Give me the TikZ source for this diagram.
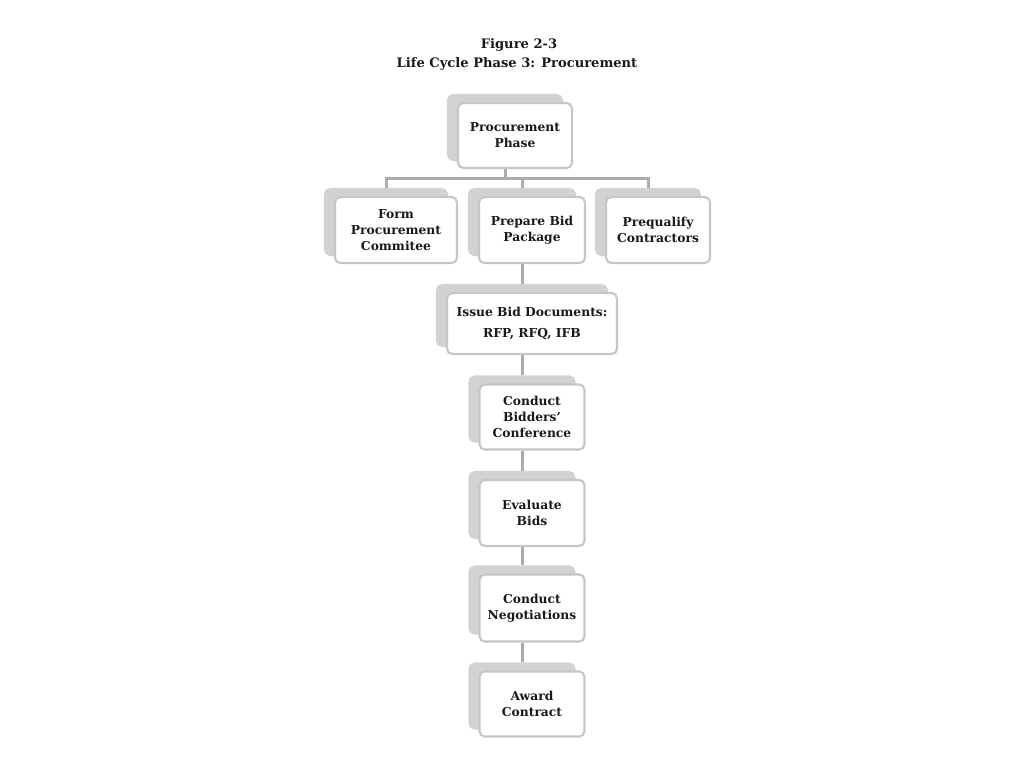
\documentclass[tikz,border=0pt]{standalone}
\usepackage{fontspec}
\setmainfont{DejaVu Serif}
\usetikzlibrary{shadows}

\begin{document}
\begin{tikzpicture}[x=0.02cm, y=-0.02cm,
  box/.style={draw=gray!45, line width=1.2pt, fill=white, rounded corners=3pt,
    align=center, text=black!90, inner sep=0pt,
    font=\fontsize{7}{9.1}\selectfont\bfseries,
    copy shadow={shadow xshift=-0.2cm, shadow yshift=0.16cm, fill=gray!35, draw=gray!35}},
  title/.style={anchor=base, text=black!90, font=\fontsize{7.45}{9.5}\selectfont\bfseries},
  conn/.style={draw=gray!65, line width=1.7pt}]

\useasboundingbox (0,0) rectangle (1024,768);

\node[title] (fig) at (519,48) {Figure 2-3};
\node[title] (name) at (517,67) {Life Cycle Phase 3: Procurement};

\node[box, minimum width=2.28cm, minimum height=1.30cm] (phase) at (515,135.5) {Procurement\\Phase};

\node[box, minimum width=2.44cm, minimum height=1.32cm] (form) at (396,230) {Form\\Procurement\\Commitee};
\node[box, minimum width=2.12cm, minimum height=1.32cm] (prep) at (532,230) {Prepare Bid\\Package};
\node[box, minimum width=2.08cm, minimum height=1.32cm] (preq) at (658,230) {Prequalify\\Contractors};

\node[box, minimum width=3.40cm, minimum height=1.22cm] (issue) at (532,323.5) {Issue Bid Documents:\\[2.5pt]RFP, RFQ, IFB};
\node[box, minimum width=2.10cm, minimum height=1.30cm] (conf) at (532,417) {Conduct\\Bidders'\\Conference};
\node[box, minimum width=2.10cm, minimum height=1.32cm] (eval) at (532,513) {Evaluate\\Bids};
\node[box, minimum width=2.10cm, minimum height=1.34cm] (nego) at (532,608) {Conduct\\Negotiations};
\node[box, minimum width=2.10cm, minimum height=1.30cm] (award) at (532,704) {Award\\Contract};

% tree under the phase box
\draw[conn] ([xshift=-0.2cm]phase.south) -- ++(0,9) coordinate (hub);
\draw[conn] ([xshift=-0.2cm,yshift=0.16cm]form.north) |- (hub) -| ([xshift=-0.2cm,yshift=0.16cm]preq.north);
\draw[conn] ([xshift=-0.2cm,yshift=0.16cm]prep.north) |- (hub);

% chain down
\draw[conn] ([xshift=-0.2cm]prep.south) -- ([xshift=-0.2cm,yshift=0.16cm]issue.north);
\draw[conn] ([xshift=-0.2cm]issue.south) -- ([xshift=-0.2cm,yshift=0.16cm]conf.north);
\draw[conn] ([xshift=-0.2cm]conf.south) -- ([xshift=-0.2cm,yshift=0.16cm]eval.north);
\draw[conn] ([xshift=-0.2cm]eval.south) -- ([xshift=-0.2cm,yshift=0.16cm]nego.north);
\draw[conn] ([xshift=-0.2cm]nego.south) -- ([xshift=-0.2cm,yshift=0.16cm]award.north);
\end{tikzpicture}
\end{document}
